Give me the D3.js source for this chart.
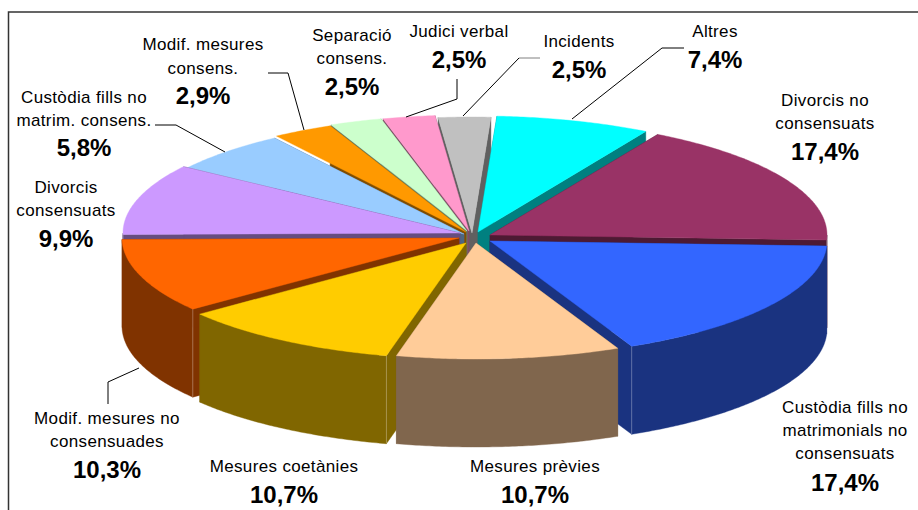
<!DOCTYPE html>
<html>
<head>
<meta charset="utf-8">
<script src="https://cdn.jsdelivr.net/npm/d3@7"></script>
<style>
  html, body { margin: 0; padding: 0; background: #fff; }
  svg { display: block; }
  text { font-family: "Liberation Sans", Arial, sans-serif; fill: #000; text-anchor: middle; }
  .name { font-size: 17px; letter-spacing: 0.35px; }
  .pct { font-size: 24px; font-weight: bold; }
</style>
</head>
<body>
<svg id="chart" width="918" height="510"></svg>
<script>
var categories = [
    ["Custòdia fills no", "matrimonials no", "consensuats"],
    ["Mesures prèvies"],
    ["Mesures coetànies"],
    ["Modif. mesures no", "consensuades"],
    ["Divorcis", "consensuats"],
    ["Custòdia fills no", "matrim. consens."],
    ["Modif. mesures", "consens."],
    ["Separació", "consens."],
    ["Judici verbal"],
    ["Incidents"],
    ["Altres"],
    ["Divorcis no", "consensuats"]
];
var values = [17.4, 10.7, 10.7, 10.3, 9.9, 5.8, 2.9, 2.5, 2.5, 2.5, 7.4, 17.4];
var colors = ["#3366FF", "#FFCC99", "#FFCC00", "#FF6600", "#CC99FF", "#99CCFF",
              "#FF9900", "#CCFFCC", "#FF99CC", "#C0C0C0", "#00FFFF", "#993366"];

// Layout only: how far each slice is pulled from the hub, px
var pullX = [16, 2, -8, -15, -14, -10, -8, -7, -5, -2, 4, 16];
var pullY = [5, 7, 7, 2, -3, -2, -4, -5, -5, -3, -4, -1];
// Part of the cut wall that shows before the next slice hides it
var wallReach = [1, 1, 1, 1, 1, 0.66, 0.7, 1, 1, 1, 1, 1];
// Label anchors: centre x, then one baseline per text line
var labelX = [845, 535, 284, 107, 66, 84, 203, 352, 459, 579, 715, 825];
var labelY = [
    [413, 436, 459, 491], [472, 503], [472, 503], [424, 447, 478], [193, 216, 247], [103, 126, 156],
    [50, 74, 104], [41, 64, 95], [37, 68], [47, 78], [37, 68], [106, 129, 160]
];
var leaders = [
    {color: "#000", pts: [[139, 368], [108, 382], [108, 404]]},
    {color: "#000", pts: [[155, 125], [176, 125], [225, 152]]},
    {color: "#000", pts: [[268, 73], [288, 73], [304, 130]]},
    {color: "#000", pts: [[457, 79], [457, 99], [406, 117]]},
    {color: "#000", pts: [[519, 58], [463, 116]]},
    {color: "#808080", pts: [[540, 58], [519, 58]]},
    {color: "#000", pts: [[684, 48], [662, 48], [572, 119]]}
];

var hubX = 474, hubY = 236, radiusX = 337, radiusY = 116, depth = 88;
var startDeg = 2.5;

var svg = d3.select("#chart");

// Unit circle to screen, relative to the hub of a slice
var xUnit = d3.scaleLinear().domain([-1, 1]).range([-radiusX, radiusX]);
var yUnit = d3.scaleLinear().domain([-1, 1]).range([-radiusY, radiusY]);
var line = d3.line();

// Frame, open at the right and bottom as in the picture
svg.append("path")
    .attr("d", "M8.5,510V12H918")
    .attr("fill", "none")
    .attr("stroke", "#333")
    .attr("stroke-width", 1.5);

var pie = d3.pie().sort(null)
    .startAngle(startDeg * Math.PI / 180)
    .endAngle((startDeg + 360) * Math.PI / 180);

var slices = pie(values).map(function (d, i) {
    var ox = hubX + pullX[i], oy = hubY + pullY[i];
    var mid = (d.startAngle + d.endAngle) / 2;
    return {a0: d.startAngle, a1: d.endAngle, mid: mid, i: i, ox: ox, oy: oy};
});

function rim(s, a) {
    return [s.ox + xUnit(Math.cos(a)), s.oy + yUnit(Math.sin(a))];
}

function arcPoints(s, a0, a1) {
    var n = Math.max(2, Math.ceil((a1 - a0) / 0.01));
    return d3.range(n + 1).map(function (k) { return rim(s, a0 + (a1 - a0) * k / n); });
}

function down(p) { return [p[0], p[1] + depth]; }

// Wall below the straight edge from the apex out to part of the rim
function cutWall(s, a, reach) {
    var r = rim(s, a);
    var e = [s.ox + (r[0] - s.ox) * reach, s.oy + (r[1] - s.oy) * reach];
    var o = [s.ox, s.oy];
    return [o, e, down(e), down(o)];
}

// Front parts of the outer rim (where sin > 0)
function frontRanges(s) {
    var tau = 2 * Math.PI, out = [];
    [0, tau].forEach(function (base) {
        var lo = Math.max(s.a0, base), hi = Math.min(s.a1, base + Math.PI);
        if (hi > lo) out.push([lo, hi]);
    });
    return out;
}

// Back slices first so the front ones paint over them
var order = slices.slice().sort(function (a, b) { return Math.sin(a.mid) - Math.sin(b.mid); });

order.forEach(function (s) {
    var fill = colors[s.i];
    var dark = d3.interpolateRgb(fill, "#000")(0.5);
    var seam = d3.interpolateRgb(dark, "#fff")(0.3);
    var g = svg.append("g").attr("class", "slice");

    [[s.a0, wallReach[s.i]], [s.a1, 1]].forEach(function (w) {
        g.append("path")
            .attr("d", line(cutWall(s, w[0], w[1])) + "Z")
            .attr("fill", dark)
            .attr("stroke", dark)
            .attr("stroke-width", 0.4);
    });

    frontRanges(s).forEach(function (r) {
        var top = arcPoints(s, r[0], r[1]);
        var bottom = top.slice().reverse().map(down);
        g.append("path")
            .attr("d", line(top.concat(bottom)) + "Z")
            .attr("fill", dark)
            .attr("stroke", dark)
            .attr("stroke-width", 0.4);
    });

    // Thin seam where a visible cut wall meets the outer wall
    [s.a0, s.a1].forEach(function (a, k) {
        var faces = k === 0 ? -Math.cos(a) : Math.cos(a);
        if (Math.sin(a) > 0 && faces > 0) {
            var p = rim(s, a);
            g.append("path")
                .attr("d", line([p, down(p)]))
                .attr("stroke", seam)
                .attr("stroke-width", 1)
                .attr("fill", "none");
        }
    });

    g.append("path")
        .attr("d", line([[s.ox, s.oy]].concat(arcPoints(s, s.a0, s.a1))) + "Z")
        .attr("fill", fill)
        .attr("stroke", fill)
        .attr("stroke-width", 0.4);
});

// Leader lines
leaders.forEach(function (l) {
    svg.append("path")
        .attr("d", line(l.pts))
        .attr("fill", "none")
        .attr("stroke", l.color)
        .attr("stroke-width", 1);
});

// Labels
var pctFormat = function (v) { return v.toFixed(1).replace(".", ",") + "%"; };
categories.forEach(function (lines, i) {
    lines.forEach(function (t, k) {
        svg.append("text").attr("class", "name")
            .attr("x", labelX[i]).attr("y", labelY[i][k]).text(t);
    });
    svg.append("text").attr("class", "pct")
        .attr("x", labelX[i]).attr("y", labelY[i][lines.length]).text(pctFormat(values[i]));
});
</script>
</body>
</html>
